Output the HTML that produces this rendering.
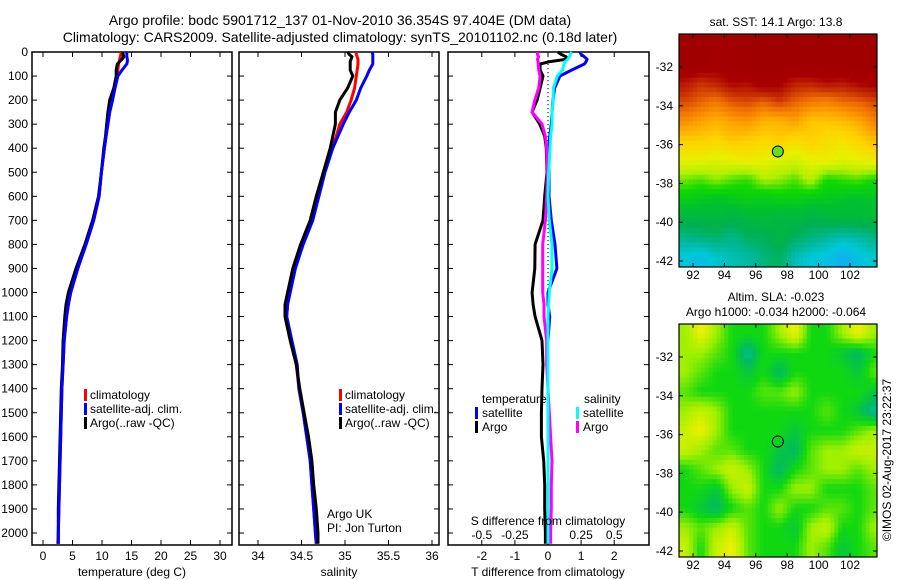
<!DOCTYPE html>
<html><head><meta charset="utf-8">
<style>
html,body{margin:0;padding:0;background:#fff;}
svg{display:block;font-family:"Liberation Sans",sans-serif;}
text{font-size:12px;fill:#000;}
</style></head>
<body>
<svg id="chart" width="900" height="580" viewBox="0 0 900 580" xmlns="http://www.w3.org/2000/svg">
<text x="340" y="25" text-anchor="middle" style="font-size:14px">Argo profile: bodc 5901712_137 01-Nov-2010 36.354S 97.404E (DM data)</text>
<text x="340" y="42" text-anchor="middle" style="font-size:14px">Climatology: CARS2009. Satellite-adjusted climatology: synTS_20101102.nc (0.18d later)</text>
<g id="g"></g>
</svg>
<script>
const depth=[0,10,20,30,40,50,75,100,150,200,250,300,350,400,500,600,700,800,900,1000,1050,1100,1200,1300,1400,1500,1600,1700,1800,1900,2000,2045];
const tClim=[13.2,13.2,13.1,13.0,12.9,12.8,12.7,12.5,12.1,11.7,11.3,11.0,10.7,10.4,9.9,9.5,8.6,7.3,5.9,4.7,4.3,4.0,3.6,3.4,3.2,3.1,3.0,2.9,2.8,2.7,2.6,2.5];
const tSat=[14.2,14.2,14.2,14.3,14.3,14.2,13.4,12.7,12.2,11.8,11.3,11.0,10.7,10.4,9.9,9.5,8.6,7.3,5.9,4.7,4.3,4.0,3.6,3.4,3.2,3.1,3.0,2.9,2.8,2.7,2.6,2.6];
const tArgo=[13.5,13.6,13.7,13.4,13.0,12.6,12.4,12.4,12.0,11.3,11.0,10.8,10.6,10.3,9.9,9.4,8.4,7.1,5.6,4.3,3.9,3.7,3.4,3.3,3.1,3.0,2.9,2.8,2.7,2.6,2.6,2.6];
const sClim=[35.13,35.13,35.14,35.15,35.15,35.15,35.14,35.13,35.11,35.07,35.02,34.94,34.9,34.85,34.75,34.68,34.62,34.51,34.42,34.36,34.34,34.33,34.38,34.44,34.47,34.52,34.56,34.6,34.62,34.64,34.66,34.67];
const sSat=[35.31,35.32,35.32,35.32,35.32,35.32,35.28,35.25,35.18,35.13,35.05,34.98,34.92,34.86,34.77,34.7,34.63,34.52,34.43,34.37,34.34,34.33,34.39,34.45,34.47,34.52,34.56,34.6,34.62,34.64,34.66,34.67];
const sArgo=[35.03,35.05,35.08,35.07,35.06,35.06,35.06,35.09,35.03,34.94,34.89,34.89,34.86,34.83,34.75,34.67,34.6,34.49,34.4,34.34,34.31,34.31,34.37,34.44,34.48,34.53,34.58,34.62,34.64,34.67,34.69,34.69];
const dTSat=[0.97,1.0,1.1,1.18,1.15,1.1,0.72,0.36,0.2,0.15,0.12,0.1,0.05,0.03,0.03,0.03,0.1,0.21,0.27,0.0,0.0,0.05,0.0,0.0,0.0,0.0,0.0,0.0,0.0,0.0,0.0,0.0];
const dTArgo=[0.3,0.4,0.55,0.57,0.06,-0.24,-0.24,-0.15,-0.24,-0.33,-0.48,-0.25,-0.1,-0.05,-0.03,-0.1,-0.15,-0.39,-0.4,-0.48,-0.45,-0.39,-0.18,-0.15,-0.18,-0.2,-0.2,-0.13,-0.1,-0.1,-0.08,-0.08];
const dSSat=[0.18,0.17,0.16,0.15,0.13,0.12,0.11,0.07,0.04,0.04,0.03,0.03,0.02,0.015,0.005,0.0,0.01,0.03,0.03,0.01,0.005,0.0,0.0,0.0,0.0,0.0,0.0,0.0,0.0,0.0,0.0,0.0];
const dSArgo=[-0.08,-0.08,-0.07,-0.08,-0.075,-0.075,-0.07,-0.06,-0.07,-0.1,-0.12,-0.045,-0.02,-0.01,-0.005,-0.01,-0.02,-0.04,-0.04,-0.04,-0.03,-0.03,-0.01,-0.01,0.0,0.01,0.02,0.03,0.025,0.025,0.02,0.02];
const depthTicks=[0,100,200,300,400,500,600,700,800,900,1000,1100,1200,1300,1400,1500,1600,1700,1800,1900,2000];
const tTicks=[0,5,10,15,20,25,30];
const sTicks=[34,34.5,35,35.5,36];
const sTickLabels=["34","34.5","35","35.5","36"];
const dTTicks=[-2,-1,0,1,2];
const dSTicks=[-0.5,-0.25,0,0.25,0.5];
const dSTickLabels=["-0.5","-0.25","0","0.25","0.5"];
const lonTicks=[92,94,96,98,100,102];
const latTicks=[-32,-34,-36,-38,-40,-42];
const sstGrid=[
[17,17,16.8,16.8,17,17,17,17,17,17,17,17,17],
[17,17,16.7,16.8,17,17,17,17,17,17,17,17,17],
[16.3,16,16.2,16.5,16.4,16.8,16.6,16.2,16.2,16.4,16.3,16.5,16.6],
[15.8,15.6,15.4,15.7,15.8,15.6,15.9,15.6,15.4,15.3,15.5,15.6,15.8],
[15.2,15,14.8,15,15.1,14.8,14.8,15,14.6,14.6,14.7,14.9,15.3],
[14.5,14.5,14.4,14.6,14.5,14.4,14.5,14.3,14.5,14.3,14.2,14.4,14.7],
[14,14,13.9,14,14.1,14,13.9,13.8,14,14.1,13.9,14,14.1],
[13.3,13.2,13.4,13.2,13.1,13.5,13.4,13.2,13.6,13,13.1,13.2,13],
[12.8,12.7,12.6,12.7,12.8,12.7,12.8,12.8,12.7,12.7,12.6,12.5,12.6],
[12.2,12.2,12.3,12.1,12.3,12.4,12.2,12.3,12.1,12.2,12.3,12.3,12.4],
[11.6,11.7,11.8,11.6,11.9,11.9,12.2,11.9,11.7,11.5,11.3,11.4,11.6],
[11,10.8,11.1,11.3,11.4,11.7,11.9,11.3,11,10.9,10.5,10.8,11.1]];
const slaGrid=[
[0.1,0.2,0.1,0,0,0,0.1,0.2,0,0,0.1,0.2,0.1],
[0.1,0.1,0.05,0,-0.15,0,0,0,0,0,-0.05,-0.1,0],
[0.1,0.05,0,0,-0.05,0,-0.1,0,0,0,0,-0.05,0.05],
[0.05,0,0,0,0,0.05,0.05,0.1,0,0,0,0,-0.05],
[0.1,0.15,0.1,0,0,0,0,0,0,0.05,0,-0.05,-0.15],
[0.15,0.2,0.1,0,0,0,0,-0.05,0,0,0,0.05,0.1],
[0.15,0.1,0.05,0.05,0,0,-0.05,-0.1,0.05,0.1,0.1,0.15,0.15],
[0,0.05,0.1,0.15,0.1,0,-0.1,0,0.05,0.1,0.1,0.05,0.1],
[0,0,-0.05,0.1,0.15,0,0,0.1,0.1,0,0,0,0.05],
[0,-0.05,-0.1,0,0.05,0,0.1,0,0,0.05,0.05,0,0.05],
[0.1,0.05,0.1,0.15,0.05,0,0,-0.05,0.1,0.15,0,0,0.1],
[0.15,0,0.15,0.2,0.05,0,0,0,0.1,0.05,-0.05,0,0.05]];
const argoLon=97.404, argoLat=-36.354;

const NS="http://www.w3.org/2000/svg";
const G=document.getElementById('g');
function mk(tag,attrs,parent){const e=document.createElementNS(NS,tag);for(const k in attrs)e.setAttribute(k,attrs[k]);(parent||G).appendChild(e);return e;}
function txt(s,x,y,anchor,parent,size){const e=mk('text',{x:x,y:y,'text-anchor':anchor||'middle'},parent);if(size)e.style.fontSize=size+'px';e.textContent=s;return e;}
const Y=d=>52+d*0.2405;
const P1={x0:32,x1:232},P2={x0:239,x1:439},P3={x0:448,x1:649},PT=52,PB=545;
const xT=v=>43+v*5.9, xS=v=>258+(v-34)*87, xDT=v=>548+v*33.1, xDS=v=>548+v*132.4;

function frame(p,name){
  const r=mk('rect',{x:p.x0,y:PT,width:p.x1-p.x0,height:PB-PT,fill:'none',stroke:'#000','stroke-width':1.5});
  
  depthTicks.forEach(d=>{mk('line',{x1:p.x0,x2:p.x0+5,y1:Y(d),y2:Y(d),stroke:'#000'});mk('line',{x1:p.x1-5,x2:p.x1,y1:Y(d),y2:Y(d),stroke:'#000'});});
}
function line(xs,f,color,name,w){
  const pts=depth.map((d,i)=>f(xs[i]).toFixed(1)+','+Y(d).toFixed(1)).join(' ');
  const l=mk('polyline',{points:pts,fill:'none',stroke:color,'stroke-width':w||3,'stroke-linejoin':'round'});
  
  
}
function xticks(p,ticks,labels,f,ly){
  ticks.forEach((t,i)=>{const x=f(t);mk('line',{x1:x,x2:x,y1:PT,y2:PT+5,stroke:'#000'});mk('line',{x1:x,x2:x,y1:PB-5,y2:PB,stroke:'#000'});
    const e=txt(labels[i],x,ly);});
}
function legend(x,items,name){
  items.forEach((it,i)=>{const y=399+i*14;mk('rect',{x:x,y:y-10,width:3,height:12,fill:it[0]});const e=txt(it[1],x+6,y,'start');});
}
depthTicks.forEach(d=>{const e=txt(String(d),28,Y(d)+4,'end');});
frame(P1,'temperature-panel');
xticks(P1,tTicks,tTicks.map(String),xT,560);
line(tClim,xT,'#f00','temp-climatology-line');
line(tArgo,xT,'#000','temp-argo-line');
line(tSat,xT,'#00f','temp-satellite-line');
const xt1=txt('temperature (deg C)',132,576);
legend(84,[['#f00','climatology'],['#00f','satellite-adj. clim.'],['#000','Argo(..raw -QC)']],'temp-legend');
frame(P2,'salinity-panel');
xticks(P2,sTicks,sTickLabels,xS,560);
line(sClim,xS,'#f00','sal-climatology-line');
line(sSat,xS,'#00f','sal-satellite-line');
line(sArgo,xS,'#000','sal-argo-line');
const xt2=txt('salinity',339,576);
legend(339,[['#f00','climatology'],['#00f','satellite-adj. clim.'],['#000','Argo(..raw -QC)']],'sal-legend');
txt('Argo UK',327,518,'start');txt('PI: Jon Turton',327,532,'start');
frame(P3,'difference-panel');
xticks(P3,dTTicks,dTTicks.map(String),xDT,560);
dSTicks.forEach((t,i)=>{txt(dSTickLabels[i],xDS(t),539);});
for(let y=PT;y<300;y+=4)mk('rect',{x:547.5,y:y,width:1,height:1.2,fill:'#000'});
line(dTSat,xDT,'#00f','tdiff-satellite-line');
line(dTArgo,xDT,'#000','tdiff-argo-line');
line(dSArgo,xDS,'#f0f','sdiff-argo-line');
line(dSSat,xDS,'#0ff','sdiff-satellite-line');
txt('S difference from climatology',548,525);
const xt3=txt('T difference from climatology',548,576);
txt('temperature',482,403,'start');txt('salinity',584,403,'start');
[['#00f','satellite',475,417],['#000','Argo',475,431],['#0ff','satellite',576,417],['#f0f','Argo',576,431]].forEach(it=>{mk('rect',{x:it[2],y:it[3]-10,width:3,height:12,fill:it[0]});txt(it[1],it[2]+7,it[3],'start');});

const lonX=v=>693+(v-92)*15.7;
function hex(s){return s.match(/\w\w/g).map(h=>parseInt(h,16));}
function lerpColor(stops,v){
  if(v<=stops[0][0])return '#'+stops[0][1];
  for(let i=1;i<stops.length;i++){if(v<=stops[i][0]){const a=stops[i-1],b=stops[i],t=(v-a[0])/(b[0]-a[0]);
    const ca=hex(a[1]),cb=hex(b[1]);
    return '#'+ca.map((c,k)=>Math.round(c+(cb[k]-c)*t).toString(16).padStart(2,'0')).join('');}}
  return '#'+stops[stops.length-1][1];
}
const sstStops=[[10.5,'10b0f0'],[11,'00c8d8'],[11.5,'00b898'],[12,'00b050'],[12.5,'00c030'],[13,'10d800'],[13.5,'b0f000'],[14,'e8f000'],[14.5,'ffd000'],[15,'ffa000'],[15.5,'ee7000'],[16,'c83000'],[16.5,'a80000'],[17,'a00000']];
const slaStops=[[-0.2,'00d0c0'],[-0.1,'00b868'],[0,'10d810'],[0.1,'a0f000'],[0.2,'f0f000']];
function sample(grid,r,c){
  const R=grid.length,C=grid[0].length;
  r=Math.max(0,Math.min(R-1,r));c=Math.max(0,Math.min(C-1,c));
  const r0=Math.floor(r),c0=Math.floor(c),r1=Math.min(R-1,r0+1),c1=Math.min(C-1,c0+1),fr=r-r0,fc=c-c0;
  return grid[r0][c0]*(1-fr)*(1-fc)+grid[r0][c1]*(1-fr)*fc+grid[r1][c0]*fr*(1-fc)+grid[r1][c1]*fr*fc;
}
const defs=mk('defs',{});
function map(top,grid,stops,name,fillDot){
  const bottom=top+233, latY=v=>top+33+(-32-v)*19.4;
  const cp=mk('clipPath',{id:'cp'+name},defs);mk('rect',{x:679,y:top,width:198,height:233},cp);
  const g=mk('g',{'clip-path':'url(#cp'+name+')'});
  
  const lat0=-30.3, N=4, R=grid.length, C=grid[0].length;
  for(let r=0;r<R*N;r++)for(let c=0;c<C*N;c++){
    const gr=(r+0.5)/N-0.5, gc=(c+0.5)/N-0.5;
    const v=sample(grid,gr,gc);
    const x=lonX(91+c/N), y=latY(lat0-r/N), w=15.7/N, h=19.4/N;
    const ce=mk('rect',{x:x.toFixed(1),y:y.toFixed(1),width:(w+0.6).toFixed(1),height:(h+0.6).toFixed(1),fill:lerpColor(stops,v)},g);
    
    
  }
  mk('rect',{x:679,y:top,width:198,height:233,fill:'none',stroke:'#000','stroke-width':1.2});
  lonTicks.forEach(l=>{const x=lonX(l);mk('line',{x1:x,x2:x,y1:top,y2:top+4,stroke:'#000'});mk('line',{x1:x,x2:x,y1:bottom-4,y2:bottom,stroke:'#000'});txt(String(l),x,bottom+12);});
  latTicks.forEach(l=>{const y=latY(l);mk('line',{x1:679,x2:683,y1:y,y2:y,stroke:'#000'});mk('line',{x1:873,x2:877,y1:y,y2:y,stroke:'#000'});txt(String(l),673,y+4,'end');});
  const c=mk('circle',{cx:lonX(argoLon),cy:latY(argoLat),r:5.5,fill:fillDot,stroke:'#000','stroke-width':1});
  
}
map(34,sstGrid,sstStops,'sst-map','#60e020');
map(324,slaGrid,slaStops,'sla-map','none');
txt('sat. SST: 14.1 Argo: 13.8',776,26);
txt('Altim. SLA: -0.023',776,301);
txt('Argo h1000: -0.034 h2000: -0.064',776,316);
const cr=txt('©IMOS 02-Aug-2017 23:22:37',0,0,'middle');
cr.setAttribute('transform','translate(891,460) rotate(-90)');

</script>
</body></html>
